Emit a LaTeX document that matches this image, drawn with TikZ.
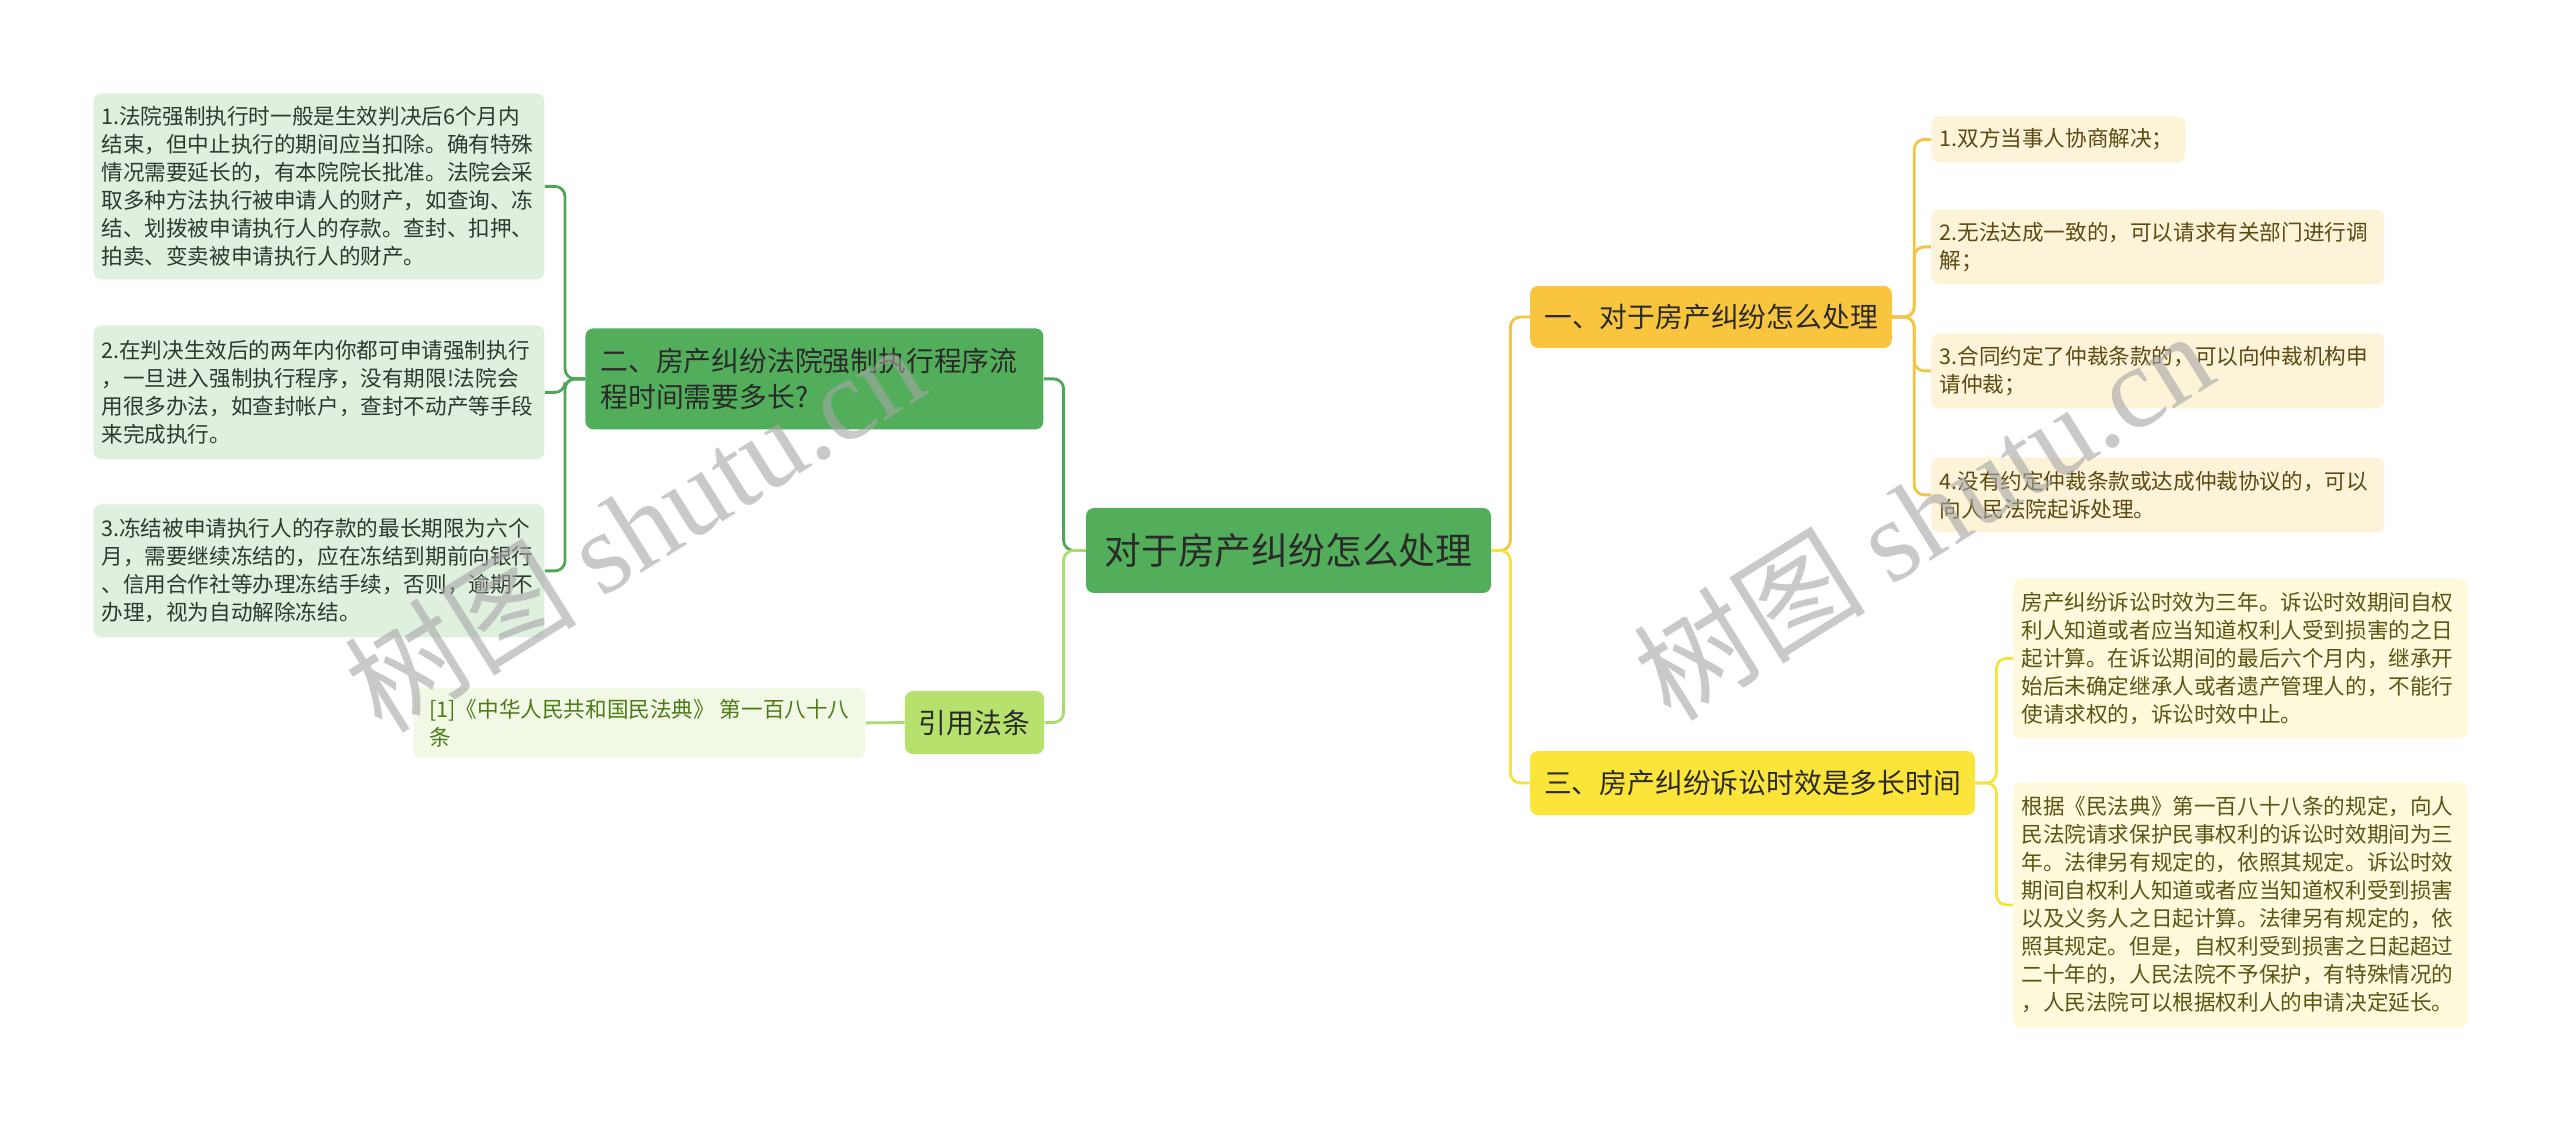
\documentclass[tikz,border=0pt]{standalone}
\usepackage{fontspec}
\setmainfont{Noto Sans CJK SC}
\newfontfamily\wmfont{Liberation Serif}
\definecolor{rootgreen}{HTML}{53AE5B}
\definecolor{leafgreen}{HTML}{DFF0DF}
\definecolor{limegreen}{HTML}{B5E16C}
\definecolor{citefill}{HTML}{F1F9E6}
\definecolor{citetext}{HTML}{4E7A17}
\definecolor{orangey}{HTML}{F9C53F}
\definecolor{creamfill}{HTML}{FDF3D8}
\definecolor{creamtext}{HTML}{5C4A12}
\definecolor{yellowy}{HTML}{FBE53B}
\definecolor{paleyellow}{HTML}{FEFADB}
\definecolor{paletext}{HTML}{5B5616}
\definecolor{darktext}{HTML}{2A2A2A}
\definecolor{leaftext}{HTML}{2E3A2F}
\definecolor{linkgreen}{HTML}{4FA659}
\definecolor{linklime}{HTML}{A9DC6C}
\definecolor{linkorange}{HTML}{F4C444}
\definecolor{linkyellow}{HTML}{F8E23C}

\begin{document}
\begin{tikzpicture}[x=0.5pt, y=-0.5pt,
    box/.style={rounded corners=4pt, inner ysep=3pt},
    root/.style={box, fill=rootgreen, text=darktext, font=\fontsize{18.4}{22}\selectfont, minimum width=202.5pt, minimum height=42.5pt},
    topic/.style={box, text=darktext, inner xsep=7pt, font=\fontsize{13.9}{18}\selectfont},
    leaf/.style={box, anchor=north west, align=left, inner xsep=4pt, font=\fontsize{10.8}{14}\selectfont},
    leafL/.style={leaf, fill=leafgreen, text=leaftext, text width=217.5pt},
    leafR/.style={leaf, fill=creamfill, text=creamtext, text width=218.5pt},
    leafY/.style={leaf, fill=paleyellow, text=paletext, text width=219pt},
    link/.style={line width=1.4pt, rounded corners=5pt},
    wmark/.style={text=gray!70, opacity=0.6, font=\fontsize{58}{60}\selectfont, rotate=32}
  ]
    \path[use as bounding box, fill=white] (0,0) rectangle (2560,1122);

    \node[root] (root) at (1288.5,550.5) {对于房产纠纷怎么处理};

    \node[topic, fill=rootgreen, anchor=north west, align=left, text width=214pt, inner xsep=7.5pt, minimum height=50.5pt]
      (er2) at (585,328) {二、房产纠纷法院强制执行程序流\\程时间需要多长?};
    \node[topic, fill=limegreen, minimum width=68.5pt, minimum height=31.5pt] (cite) at (974.5,722.5) {引用法条};
    \node[topic, fill=orangey, minimum width=180pt, minimum height=31pt] (yi) at (1711,317) {一、对于房产纠纷怎么处理};
    \node[topic, fill=yellowy, minimum width=221.5pt, minimum height=32pt] (san) at (1752.5,783) {三、房产纠纷诉讼时效是多长时间};

    \node[leafL, minimum height=93pt] (la) at (93,93) {1.法院强制执行时一般是生效判决后6个月内\\结束，但中止执行的期间应当扣除。确有特殊\\情况需要延长的，有本院院长批准。法院会采\\取多种方法执行被申请人的财产，如查询、冻\\结、划拨被申请执行人的存款。查封、扣押、\\拍卖、变卖被申请执行人的财产。};
    \node[leafL, minimum height=67pt] (lb) at (93,325) {2.在判决生效后的两年内你都可申请强制执行\\，一旦进入强制执行程序，没有期限!法院会\\用很多办法，如查封帐户，查封不动产等手段\\来完成执行。};
    \node[leafL, minimum height=66.5pt] (lc) at (93,504) {3.冻结被申请执行人的存款的最长期限为六个\\月，需要继续冻结的，应在冻结到期前向银行\\、信用合作社等办理冻结手续，否则，逾期不\\办理，视为自动解除冻结。};
    \node[leaf, fill=citefill, text=citetext, minimum width=226pt, minimum height=35pt] (citation) at (413,687.5) {[1]《中华人民共和国民法典》 第一百八十八\\条};

    \node[leafR, text width=119pt, minimum height=23pt] (r1) at (1931,116) {1.双方当事人协商解决；};
    \node[leafR, minimum height=37.5pt] (r2) at (1931,209) {2.无法达成一致的，可以请求有关部门进行调\\解；};
    \node[leafR, minimum height=37.5pt] (r3) at (1931,333) {3.合同约定了仲裁条款的，可以向仲裁机构申\\请仲裁；};
    \node[leafR, minimum height=37.5pt] (r4) at (1931,457) {4.没有约定仲裁条款或达成仲裁协议的，可以\\向人民法院起诉处理。};

    \node[leafY, minimum height=80pt] (r5) at (2013,578) {房产纠纷诉讼时效为三年。诉讼时效期间自权\\利人知道或者应当知道权利人受到损害的之日\\起计算。在诉讼期间的最后六个月内，继承开\\始后未确定继承人或者遗产管理人的，不能行\\使请求权的，诉讼时效中止。};
    \node[leafY, minimum height=122.5pt] (r6) at (2013,782) {根据《民法典》第一百八十八条的规定，向人\\民法院请求保护民事权利的诉讼时效期间为三\\年。法律另有规定的，依照其规定。诉讼时效\\期间自权利人知道或者应当知道权利受到损害\\以及义务人之日起计算。法律另有规定的，依\\照其规定。但是，自权利受到损害之日起超过\\二十年的，人民法院不予保护，有特殊情况的\\，人民法院可以根据权利人的申请决定延长。};

    \draw[link, linkgreen] (root.west) -- ++(-22,0) |- (er2.east);
    \draw[link, linklime] (root.west) -- ++(-22,0) |- (cite.east);
    \foreach \n in {la,lb,lc}
      \draw[link, linkgreen] (er2.west) -- ++(-20,0) |- (\n.east);
    \draw[link, linklime] (cite.west) -- (citation.east);
    \draw[link, linkorange] (root.east) -- ++(19,0) |- (yi.west);
    \draw[link, linkyellow] (root.east) -- ++(19,0) |- (san.west);
    \foreach \n in {r1,r2,r3,r4}
      \draw[link, linkorange] (yi.east) -- ++(22,0) |- (\n.west);
    \foreach \n in {r5,r6}
      \draw[link, linkyellow] (san.east) -- ++(21,0) |- (\n.west);

    \node[wmark] (wmleft) at (634,526) {树图 {\wmfont shutu.cn}};
    \node[wmark] (wmright) at (1923,514) {树图 {\wmfont shutu.cn}};
  \end{tikzpicture}
\end{document}
